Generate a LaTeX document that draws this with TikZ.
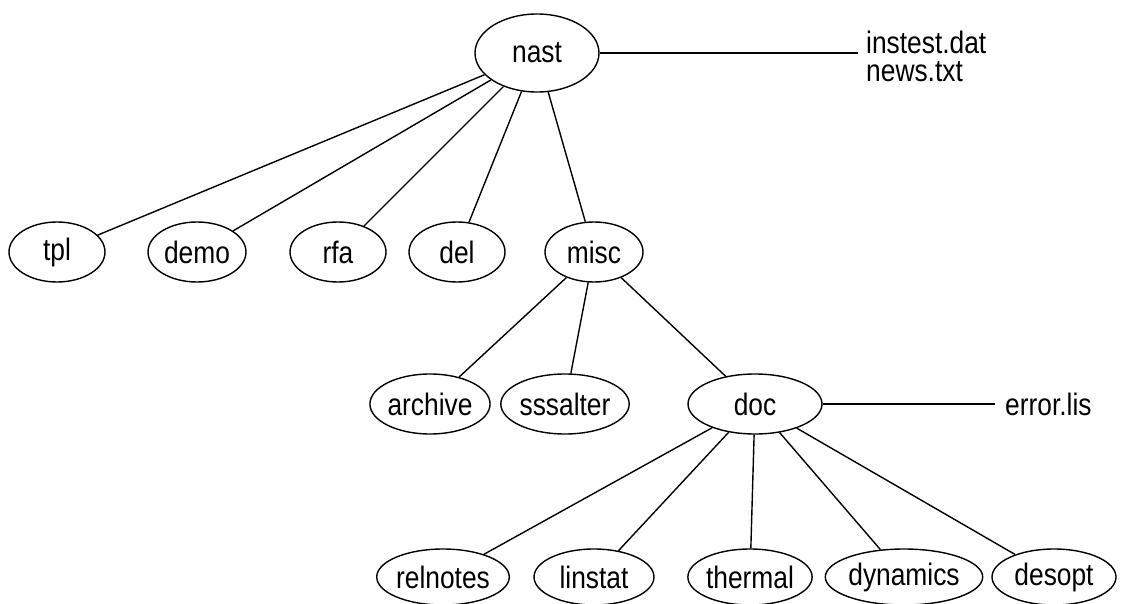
\documentclass[tikz,border=0pt]{standalone}
\usepackage{fontspec}
\setmainfont{Liberation Sans}[FakeStretch=0.85]
\usetikzlibrary{shapes.geometric}
\begin{document}
\begin{tikzpicture}[x=1pt,y=-1pt,
  every node/.style={font=\fontsize{31}{28}\selectfont},
  ell/.style={ellipse,draw,line width=1.4pt,inner sep=0pt,minimum height=60pt},
  big/.style={ell,minimum width=124pt,minimum height=78pt},
  low/.style={ell,minimum height=56pt},
  lab/.style={anchor=west,inner sep=0pt,align=left},
  edge/.style={line width=1.4pt}]
\useasboundingbox (0,0) rectangle (1130,604);
\node[big] (nast) at (537,53) {nast};
\node[ell,minimum width=96pt] (tpl) at (57,252) {tpl};
\node[ell,minimum width=98pt] (demo) at (197,252) {demo};
\node[ell,minimum width=96pt] (rfa) at (338,252) {rfa};
\node[ell,minimum width=96pt] (del) at (457,252) {del};
\node[ell,minimum width=98pt] (misc) at (594,252) {misc};
\node[ell,minimum width=110pt] (archive) at (430,404) {archive};
\node[ell,minimum width=116pt] (sssalter) at (565,404) {sssalter};
\node[ell,minimum width=134pt] (doc) at (755,404) {doc};
\node[low,minimum width=124pt] (relnotes) at (443,577) {relnotes};
\node[low,minimum width=120pt] (linstat) at (594,577) {linstat};
\node[low,minimum width=124pt] (thermal) at (750,577) {thermal};
\node[low,minimum width=126pt] (dynamics) at (904,577) {dynamics};
\node[low,minimum width=124pt] (desopt) at (1054,577) {desopt};
\node[lab] (files) at (866,56) {instest.dat\\news.txt};
\node[lab] (error) at (1005,404) {error.lis};
\coordinate (nastend) at (858,53);
\coordinate (docend) at (995,404);
\draw[edge] (nast) -- (nastend);
\draw[edge] (doc) -- (docend);
\foreach \c in {tpl,demo,rfa,del,misc} \draw[edge] (nast) -- (\c);
\foreach \c in {archive,sssalter,doc} \draw[edge] (misc) -- (\c);
\foreach \c in {relnotes,linstat,thermal,dynamics,desopt} \draw[edge] (doc) -- (\c);
\end{tikzpicture}
\end{document}
